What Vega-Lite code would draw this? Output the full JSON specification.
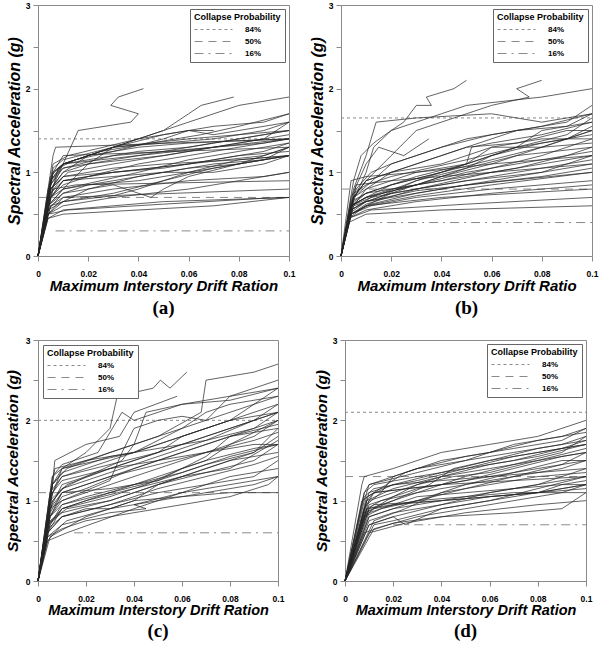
{
  "$schema": "https://vega.github.io/schema/vega-lite/v6.json",
  "description": "Incremental dynamic analysis curves with collapse probability levels, four panels",
  "padding": {"left": 4, "top": 0, "right": 0, "bottom": 2},
  "spacing": 17,
  "resolve": {"scale": {"strokeDash": "independent"}, "legend": {"strokeDash": "independent"}},
  "datasets": {
    "ka": [
      {"p": "84%", "x": 0, "y": 1.4}, {"p": "84%", "x": 0.1, "y": 1.4},
      {"p": "50%", "x": 0, "y": 0.7}, {"p": "50%", "x": 0.1, "y": 0.7},
      {"p": "16%", "x": 0.007, "y": 0.3}, {"p": "16%", "x": 0.1, "y": 0.3}
    ],
    "kb": [
      {"p": "84%", "x": 0, "y": 1.65}, {"p": "84%", "x": 0.1, "y": 1.65},
      {"p": "50%", "x": 0, "y": 0.8}, {"p": "50%", "x": 0.1, "y": 0.8},
      {"p": "16%", "x": 0.01, "y": 0.4}, {"p": "16%", "x": 0.1, "y": 0.4}
    ],
    "kc": [
      {"p": "84%", "x": 0, "y": 2.0}, {"p": "84%", "x": 0.1, "y": 2.0},
      {"p": "50%", "x": 0, "y": 1.1}, {"p": "50%", "x": 0.1, "y": 1.1},
      {"p": "16%", "x": 0.015, "y": 0.6}, {"p": "16%", "x": 0.1, "y": 0.6}
    ],
    "kd": [
      {"p": "84%", "x": 0, "y": 2.1}, {"p": "84%", "x": 0.1, "y": 2.1},
      {"p": "50%", "x": 0, "y": 1.3}, {"p": "50%", "x": 0.1, "y": 1.3},
      {"p": "16%", "x": 0.02, "y": 0.7}, {"p": "16%", "x": 0.1, "y": 0.7}
    ],
    "a": [
      {"c":1,"x":0,"y":0},{"c":1,"x":0.006,"y":1.2},{"c":1,"x":0.007,"y":1.3},{"c":1,"x":0.1,"y":1.4},
      {"c":2,"x":0,"y":0},{"c":2,"x":0.004,"y":0.8},{"c":2,"x":0.01,"y":1.1},{"c":2,"x":0.03,"y":1.3},{"c":2,"x":0.06,"y":1.4},{"c":2,"x":0.1,"y":1.5},
      {"c":3,"x":0,"y":0},{"c":3,"x":0.005,"y":0.9},{"c":3,"x":0.01,"y":1.1},{"c":3,"x":0.04,"y":1.2},{"c":3,"x":0.07,"y":1.3},{"c":3,"x":0.1,"y":1.4},
      {"c":4,"x":0,"y":0},{"c":4,"x":0.005,"y":0.7},{"c":4,"x":0.01,"y":0.9},{"c":4,"x":0.03,"y":1.0},{"c":4,"x":0.06,"y":1.1},{"c":4,"x":0.09,"y":1.2},{"c":4,"x":0.1,"y":1.3},
      {"c":5,"x":0,"y":0},{"c":5,"x":0.004,"y":0.5},{"c":5,"x":0.01,"y":0.6},{"c":5,"x":0.03,"y":0.7},{"c":5,"x":0.06,"y":0.8},{"c":5,"x":0.08,"y":0.9},{"c":5,"x":0.1,"y":1.0},
      {"c":6,"x":0,"y":0},{"c":6,"x":0.004,"y":0.45},{"c":6,"x":0.01,"y":0.5},{"c":6,"x":0.04,"y":0.55},{"c":6,"x":0.07,"y":0.6},{"c":6,"x":0.1,"y":0.7},
      {"c":7,"x":0,"y":0},{"c":7,"x":0.005,"y":0.6},{"c":7,"x":0.01,"y":0.7},{"c":7,"x":0.1,"y":0.8},
      {"c":8,"x":0,"y":0},{"c":8,"x":0.006,"y":0.8},{"c":8,"x":0.015,"y":0.85},{"c":8,"x":0.1,"y":0.9},
      {"c":9,"x":0,"y":0},{"c":9,"x":0.005,"y":0.75},{"c":9,"x":0.01,"y":0.95},{"c":9,"x":0.03,"y":1.05},{"c":9,"x":0.05,"y":1.1},{"c":9,"x":0.08,"y":1.15},{"c":9,"x":0.1,"y":1.2},
      {"c":10,"x":0,"y":0},{"c":10,"x":0.004,"y":0.6},{"c":10,"x":0.01,"y":0.8},{"c":10,"x":0.03,"y":0.9},{"c":10,"x":0.05,"y":1.0},{"c":10,"x":0.07,"y":1.1},{"c":10,"x":0.09,"y":1.15},{"c":10,"x":0.1,"y":1.3},
      {"c":11,"x":0,"y":0},{"c":11,"x":0.006,"y":1.0},{"c":11,"x":0.01,"y":1.1},{"c":11,"x":0.02,"y":1.2},{"c":11,"x":0.04,"y":1.3},{"c":11,"x":0.06,"y":1.35},{"c":11,"x":0.1,"y":1.4},
      {"c":12,"x":0,"y":0},{"c":12,"x":0.004,"y":0.7},{"c":12,"x":0.01,"y":1.1},{"c":12,"x":0.016,"y":1.5},{"c":12,"x":0.037,"y":1.6},{"c":12,"x":0.04,"y":1.7},{"c":12,"x":0.029,"y":1.8},{"c":12,"x":0.032,"y":1.9},{"c":12,"x":0.042,"y":2.0},
      {"c":13,"x":0,"y":0},{"c":13,"x":0.005,"y":0.8},{"c":13,"x":0.01,"y":1.0},{"c":13,"x":0.02,"y":1.2},{"c":13,"x":0.03,"y":1.3},{"c":13,"x":0.05,"y":1.5},{"c":13,"x":0.06,"y":1.7},{"c":13,"x":0.065,"y":1.8},{"c":13,"x":0.078,"y":1.9},
      {"c":14,"x":0,"y":0},{"c":14,"x":0.006,"y":1.1},{"c":14,"x":0.012,"y":1.2},{"c":14,"x":0.04,"y":1.4},{"c":14,"x":0.05,"y":1.5},{"c":14,"x":0.06,"y":1.6},{"c":14,"x":0.08,"y":1.8},{"c":14,"x":0.1,"y":1.9},
      {"c":15,"x":0,"y":0},{"c":15,"x":0.005,"y":0.9},{"c":15,"x":0.01,"y":1.1},{"c":15,"x":0.03,"y":1.3},{"c":15,"x":0.05,"y":1.45},{"c":15,"x":0.07,"y":1.55},{"c":15,"x":0.09,"y":1.6},{"c":15,"x":0.1,"y":1.7},
      {"c":16,"x":0,"y":0},{"c":16,"x":0.004,"y":0.6},{"c":16,"x":0.01,"y":0.75},{"c":16,"x":0.03,"y":0.85},{"c":16,"x":0.045,"y":0.7},{"c":16,"x":0.05,"y":0.8},{"c":16,"x":0.06,"y":0.95},{"c":16,"x":0.08,"y":1.1},{"c":16,"x":0.1,"y":1.2},
      {"c":17,"x":0,"y":0},{"c":17,"x":0.004,"y":0.55},{"c":17,"x":0.01,"y":0.65},{"c":17,"x":0.03,"y":0.75},{"c":17,"x":0.05,"y":0.9},{"c":17,"x":0.07,"y":1.05},{"c":17,"x":0.09,"y":1.15},{"c":17,"x":0.1,"y":1.2},
      {"c":18,"x":0,"y":0},{"c":18,"x":0.005,"y":0.7},{"c":18,"x":0.01,"y":0.8},{"c":18,"x":0.04,"y":1.0},{"c":18,"x":0.06,"y":1.15},{"c":18,"x":0.08,"y":1.25},{"c":18,"x":0.1,"y":1.35},
      {"c":19,"x":0,"y":0},{"c":19,"x":0.006,"y":1.0},{"c":19,"x":0.01,"y":1.1},{"c":19,"x":0.02,"y":1.15},{"c":19,"x":0.04,"y":1.25},{"c":19,"x":0.06,"y":1.3},{"c":19,"x":0.08,"y":1.4},{"c":19,"x":0.1,"y":1.5},
      {"c":20,"x":0,"y":0},{"c":20,"x":0.004,"y":0.5},{"c":20,"x":0.012,"y":0.55},{"c":20,"x":0.05,"y":0.62},{"c":20,"x":0.09,"y":0.69},{"c":20,"x":0.1,"y":0.7},
      {"c":21,"x":0,"y":0},{"c":21,"x":0.005,"y":0.8},{"c":21,"x":0.01,"y":1.0},{"c":21,"x":0.02,"y":1.1},{"c":21,"x":0.035,"y":1.15},{"c":21,"x":0.05,"y":1.2},{"c":21,"x":0.07,"y":1.3},{"c":21,"x":0.09,"y":1.4},{"c":21,"x":0.1,"y":1.6},
      {"c":22,"x":0,"y":0},{"c":22,"x":0.005,"y":0.7},{"c":22,"x":0.008,"y":1.05},{"c":22,"x":0.015,"y":1.15},{"c":22,"x":0.03,"y":1.25},{"c":22,"x":0.05,"y":1.4},{"c":22,"x":0.06,"y":1.5},{"c":22,"x":0.07,"y":1.45},{"c":22,"x":0.08,"y":1.5},{"c":22,"x":0.1,"y":1.6},
      {"c":23,"x":0,"y":0},{"c":23,"x":0.004,"y":0.5},{"c":23,"x":0.01,"y":0.65},{"c":23,"x":0.02,"y":0.8},{"c":23,"x":0.04,"y":0.95},{"c":23,"x":0.06,"y":1.05},{"c":23,"x":0.08,"y":1.1},{"c":23,"x":0.1,"y":1.3},
      {"c":24,"x":0,"y":0},{"c":24,"x":0.005,"y":0.75},{"c":24,"x":0.01,"y":0.9},{"c":24,"x":0.03,"y":0.95},{"c":24,"x":0.05,"y":1.0},{"c":24,"x":0.07,"y":1.0},{"c":24,"x":0.09,"y":1.1},{"c":24,"x":0.1,"y":1.2},
      {"c":25,"x":0,"y":0},{"c":25,"x":0.005,"y":0.9},{"c":25,"x":0.01,"y":1.05},{"c":25,"x":0.03,"y":1.2},{"c":25,"x":0.05,"y":1.25},{"c":25,"x":0.07,"y":1.35},{"c":25,"x":0.09,"y":1.45},{"c":25,"x":0.1,"y":1.5},
      {"c":26,"x":0,"y":0},{"c":26,"x":0.004,"y":0.6},{"c":26,"x":0.01,"y":0.8},{"c":26,"x":0.02,"y":1.1},{"c":26,"x":0.03,"y":1.3},{"c":26,"x":0.04,"y":1.4},{"c":26,"x":0.05,"y":1.45},{"c":26,"x":0.06,"y":1.5},{"c":26,"x":0.07,"y":1.5},
      {"c":27,"x":0,"y":0},{"c":27,"x":0.005,"y":0.6},{"c":27,"x":0.01,"y":0.65},{"c":27,"x":0.03,"y":0.72},{"c":27,"x":0.04,"y":0.8},{"c":27,"x":0.05,"y":0.9},{"c":27,"x":0.06,"y":1.0},{"c":27,"x":0.08,"y":1.15},{"c":27,"x":0.1,"y":1.2},
      {"c":28,"x":0,"y":0},{"c":28,"x":0.006,"y":1.0},{"c":28,"x":0.01,"y":1.2},{"c":28,"x":0.1,"y":1.3},
      {"c":29,"x":0,"y":0},{"c":29,"x":0.005,"y":0.8},{"c":29,"x":0.012,"y":1.0},{"c":29,"x":0.03,"y":1.1},{"c":29,"x":0.05,"y":1.2},{"c":29,"x":0.07,"y":1.3},{"c":29,"x":0.09,"y":1.35},{"c":29,"x":0.1,"y":1.4},
      {"c":30,"x":0,"y":0},{"c":30,"x":0.004,"y":0.5},{"c":30,"x":0.01,"y":0.7},{"c":30,"x":0.03,"y":0.8},{"c":30,"x":0.06,"y":0.9},{"c":30,"x":0.09,"y":0.95},{"c":30,"x":0.1,"y":1.0},
      {"c":31,"x":0,"y":0},{"c":31,"x":0.005,"y":0.85},{"c":31,"x":0.01,"y":1.05},{"c":31,"x":0.03,"y":1.15},{"c":31,"x":0.05,"y":1.25},{"c":31,"x":0.07,"y":1.3},{"c":31,"x":0.1,"y":1.45},
      {"c":32,"x":0,"y":0},{"c":32,"x":0.004,"y":0.65},{"c":32,"x":0.01,"y":0.9},{"c":32,"x":0.03,"y":1.0},{"c":32,"x":0.05,"y":1.05},{"c":32,"x":0.07,"y":1.15},{"c":32,"x":0.09,"y":1.25},{"c":32,"x":0.1,"y":1.35},
      {"c":33,"x":0,"y":0},{"c":33,"x":0.006,"y":1.05},{"c":33,"x":0.01,"y":1.15},{"c":33,"x":0.03,"y":1.3},{"c":33,"x":0.05,"y":1.35},{"c":33,"x":0.07,"y":1.4},{"c":33,"x":0.09,"y":1.5},{"c":33,"x":0.1,"y":1.6},
      {"c":34,"x":0,"y":0},{"c":34,"x":0.004,"y":0.55},{"c":34,"x":0.01,"y":0.75},{"c":34,"x":0.02,"y":0.85},{"c":34,"x":0.04,"y":0.9},{"c":34,"x":0.06,"y":1.0},{"c":34,"x":0.08,"y":1.1},{"c":34,"x":0.1,"y":1.2},
      {"c":35,"x":0,"y":0},{"c":35,"x":0.005,"y":0.95},{"c":35,"x":0.01,"y":1.1},{"c":35,"x":0.025,"y":1.25},{"c":35,"x":0.045,"y":1.35},{"c":35,"x":0.065,"y":1.45},{"c":35,"x":0.08,"y":1.55},{"c":35,"x":0.1,"y":1.7},
      {"c":36,"x":0,"y":0},{"c":36,"x":0.005,"y":0.7},{"c":36,"x":0.01,"y":0.85},{"c":36,"x":0.02,"y":0.95},{"c":36,"x":0.04,"y":1.1},{"c":36,"x":0.06,"y":1.2},{"c":36,"x":0.08,"y":1.3},{"c":36,"x":0.1,"y":1.4},
      {"c":37,"x":0,"y":0},{"c":37,"x":0.004,"y":0.45},{"c":37,"x":0.01,"y":0.55},{"c":37,"x":0.03,"y":0.6},{"c":37,"x":0.05,"y":0.65},{"c":37,"x":0.1,"y":0.7},
      {"c":38,"x":0,"y":0},{"c":38,"x":0.005,"y":0.8},{"c":38,"x":0.01,"y":0.95},{"c":38,"x":0.03,"y":1.0},{"c":38,"x":0.06,"y":1.1},{"c":38,"x":0.08,"y":1.2},{"c":38,"x":0.1,"y":1.25}
    ],
    "b": [
      {"c":1,"x":0,"y":0},{"c":1,"x":0.003,"y":0.4},{"c":1,"x":0.01,"y":0.5},{"c":1,"x":0.04,"y":0.55},{"c":1,"x":0.1,"y":0.6},
      {"c":2,"x":0,"y":0},{"c":2,"x":0.003,"y":0.45},{"c":2,"x":0.012,"y":0.55},{"c":2,"x":0.05,"y":0.62},{"c":2,"x":0.1,"y":0.7},
      {"c":3,"x":0,"y":0},{"c":3,"x":0.004,"y":0.5},{"c":3,"x":0.01,"y":0.6},{"c":3,"x":0.04,"y":0.7},{"c":3,"x":0.1,"y":0.8},
      {"c":4,"x":0,"y":0},{"c":4,"x":0.004,"y":0.5},{"c":4,"x":0.012,"y":0.6},{"c":4,"x":0.03,"y":0.7},{"c":4,"x":0.06,"y":0.8},{"c":4,"x":0.1,"y":0.9},
      {"c":5,"x":0,"y":0},{"c":5,"x":0.003,"y":0.45},{"c":5,"x":0.01,"y":0.6},{"c":5,"x":0.03,"y":0.72},{"c":5,"x":0.06,"y":0.85},{"c":5,"x":0.1,"y":1.0},
      {"c":6,"x":0,"y":0},{"c":6,"x":0.004,"y":0.55},{"c":6,"x":0.01,"y":0.65},{"c":6,"x":0.03,"y":0.75},{"c":6,"x":0.06,"y":0.9},{"c":6,"x":0.1,"y":1.1},
      {"c":7,"x":0,"y":0},{"c":7,"x":0.004,"y":0.5},{"c":7,"x":0.01,"y":0.62},{"c":7,"x":0.03,"y":0.8},{"c":7,"x":0.06,"y":1.0},{"c":7,"x":0.1,"y":1.2},
      {"c":8,"x":0,"y":0},{"c":8,"x":0.004,"y":0.6},{"c":8,"x":0.01,"y":0.7},{"c":8,"x":0.03,"y":0.85},{"c":8,"x":0.05,"y":1.0},{"c":8,"x":0.07,"y":1.1},{"c":8,"x":0.1,"y":1.25},
      {"c":9,"x":0,"y":0},{"c":9,"x":0.005,"y":0.6},{"c":9,"x":0.015,"y":0.7},{"c":9,"x":0.03,"y":0.9},{"c":9,"x":0.05,"y":1.05},{"c":9,"x":0.07,"y":1.2},{"c":9,"x":0.1,"y":1.3},
      {"c":10,"x":0,"y":0},{"c":10,"x":0.004,"y":0.5},{"c":10,"x":0.01,"y":0.6},{"c":10,"x":0.02,"y":0.75},{"c":10,"x":0.04,"y":0.95},{"c":10,"x":0.06,"y":1.1},{"c":10,"x":0.08,"y":1.3},{"c":10,"x":0.1,"y":1.5},
      {"c":11,"x":0,"y":0},{"c":11,"x":0.004,"y":0.9},{"c":11,"x":0.01,"y":0.95},{"c":11,"x":0.03,"y":1.0},{"c":11,"x":0.06,"y":1.1},{"c":11,"x":0.1,"y":1.2},
      {"c":12,"x":0,"y":0},{"c":12,"x":0.005,"y":0.6},{"c":12,"x":0.01,"y":0.8},{"c":12,"x":0.02,"y":1.0},{"c":12,"x":0.04,"y":1.1},{"c":12,"x":0.06,"y":1.3},{"c":12,"x":0.08,"y":1.4},{"c":12,"x":0.1,"y":1.4},
      {"c":13,"x":0,"y":0},{"c":13,"x":0.004,"y":0.55},{"c":13,"x":0.012,"y":0.7},{"c":13,"x":0.03,"y":0.9},{"c":13,"x":0.05,"y":1.1},{"c":13,"x":0.052,"y":1.3},{"c":13,"x":0.06,"y":1.35},{"c":13,"x":0.08,"y":1.45},{"c":13,"x":0.1,"y":1.6},
      {"c":14,"x":0,"y":0},{"c":14,"x":0.005,"y":0.7},{"c":14,"x":0.01,"y":0.9},{"c":14,"x":0.03,"y":1.1},{"c":14,"x":0.05,"y":1.3},{"c":14,"x":0.07,"y":1.5},{"c":14,"x":0.09,"y":1.55},{"c":14,"x":0.1,"y":1.7},
      {"c":15,"x":0,"y":0},{"c":15,"x":0.004,"y":0.6},{"c":15,"x":0.01,"y":1.0},{"c":15,"x":0.013,"y":1.3},{"c":15,"x":0.02,"y":1.5},{"c":15,"x":0.03,"y":1.6},{"c":15,"x":0.04,"y":1.7},{"c":15,"x":0.05,"y":1.8},{"c":15,"x":0.08,"y":1.9},{"c":15,"x":0.1,"y":2.0},
      {"c":16,"x":0,"y":0},{"c":16,"x":0.005,"y":0.9},{"c":16,"x":0.008,"y":1.2},{"c":16,"x":0.013,"y":1.35},{"c":16,"x":0.02,"y":1.5},{"c":16,"x":0.025,"y":1.6},{"c":16,"x":0.03,"y":1.8},{"c":16,"x":0.036,"y":1.8},{"c":16,"x":0.034,"y":1.9},{"c":16,"x":0.045,"y":2.0},{"c":16,"x":0.05,"y":2.1},
      {"c":17,"x":0,"y":0},{"c":17,"x":0.004,"y":0.7},{"c":17,"x":0.01,"y":1.1},{"c":17,"x":0.015,"y":1.3},{"c":17,"x":0.025,"y":1.2},{"c":17,"x":0.035,"y":1.4},
      {"c":18,"x":0,"y":0},{"c":18,"x":0.005,"y":0.8},{"c":18,"x":0.01,"y":1.2},{"c":18,"x":0.014,"y":1.6},{"c":18,"x":0.03,"y":1.65},{"c":18,"x":0.06,"y":1.7},{"c":18,"x":0.08,"y":1.6},{"c":18,"x":0.1,"y":1.7},
      {"c":19,"x":0,"y":0},{"c":19,"x":0.005,"y":0.7},{"c":19,"x":0.01,"y":0.8},{"c":19,"x":0.03,"y":1.0},{"c":19,"x":0.05,"y":1.1},{"c":19,"x":0.07,"y":1.3},{"c":19,"x":0.08,"y":1.5},{"c":19,"x":0.1,"y":1.6},
      {"c":20,"x":0,"y":0},{"c":20,"x":0.004,"y":0.6},{"c":20,"x":0.01,"y":0.7},{"c":20,"x":0.02,"y":0.8},{"c":20,"x":0.04,"y":0.9},{"c":20,"x":0.06,"y":1.05},{"c":20,"x":0.08,"y":1.2},{"c":20,"x":0.1,"y":1.4},
      {"c":21,"x":0,"y":0},{"c":21,"x":0.004,"y":0.6},{"c":21,"x":0.01,"y":0.75},{"c":21,"x":0.03,"y":0.95},{"c":21,"x":0.05,"y":1.1},{"c":21,"x":0.06,"y":1.3},{"c":21,"x":0.08,"y":1.3},{"c":21,"x":0.1,"y":1.5},
      {"c":22,"x":0,"y":0},{"c":22,"x":0.006,"y":0.85},{"c":22,"x":0.02,"y":0.9},{"c":22,"x":0.04,"y":0.95},{"c":22,"x":0.1,"y":1.1},
      {"c":23,"x":0,"y":0},{"c":23,"x":0.005,"y":0.7},{"c":23,"x":0.01,"y":0.9},{"c":23,"x":0.02,"y":1.2},{"c":23,"x":0.03,"y":1.5},{"c":23,"x":0.05,"y":1.7},{"c":23,"x":0.06,"y":1.8},{"c":23,"x":0.075,"y":1.9},{"c":23,"x":0.07,"y":2.0},{"c":23,"x":0.08,"y":2.1},
      {"c":24,"x":0,"y":0},{"c":24,"x":0.004,"y":0.6},{"c":24,"x":0.012,"y":0.7},{"c":24,"x":0.03,"y":0.8},{"c":24,"x":0.05,"y":0.9},{"c":24,"x":0.08,"y":1.0},{"c":24,"x":0.1,"y":1.2},
      {"c":25,"x":0,"y":0},{"c":25,"x":0.003,"y":0.5},{"c":25,"x":0.01,"y":0.65},{"c":25,"x":0.03,"y":0.78},{"c":25,"x":0.06,"y":0.88},{"c":25,"x":0.1,"y":1.0},
      {"c":26,"x":0,"y":0},{"c":26,"x":0.004,"y":0.65},{"c":26,"x":0.01,"y":0.75},{"c":26,"x":0.03,"y":0.85},{"c":26,"x":0.05,"y":0.95},{"c":26,"x":0.07,"y":1.05},{"c":26,"x":0.09,"y":1.2},{"c":26,"x":0.1,"y":1.3},
      {"c":27,"x":0,"y":0},{"c":27,"x":0.005,"y":0.7},{"c":27,"x":0.02,"y":1.1},{"c":27,"x":0.03,"y":1.2},{"c":27,"x":0.05,"y":1.4},{"c":27,"x":0.07,"y":1.5},{"c":27,"x":0.09,"y":1.6},{"c":27,"x":0.1,"y":1.8},
      {"c":28,"x":0,"y":0},{"c":28,"x":0.004,"y":0.6},{"c":28,"x":0.01,"y":0.7},{"c":28,"x":0.02,"y":0.85},{"c":28,"x":0.04,"y":1.0},{"c":28,"x":0.06,"y":1.15},{"c":28,"x":0.08,"y":1.3},{"c":28,"x":0.1,"y":1.35},
      {"c":29,"x":0,"y":0},{"c":29,"x":0.003,"y":0.45},{"c":29,"x":0.01,"y":0.55},{"c":29,"x":0.03,"y":0.65},{"c":29,"x":0.06,"y":0.75},{"c":29,"x":0.1,"y":0.85},
      {"c":30,"x":0,"y":0},{"c":30,"x":0.004,"y":0.55},{"c":30,"x":0.01,"y":0.65},{"c":30,"x":0.02,"y":0.75},{"c":30,"x":0.04,"y":0.85},{"c":30,"x":0.07,"y":1.0},{"c":30,"x":0.1,"y":1.15},
      {"c":31,"x":0,"y":0},{"c":31,"x":0.005,"y":0.65},{"c":31,"x":0.01,"y":0.75},{"c":31,"x":0.02,"y":0.85},{"c":31,"x":0.04,"y":1.0},{"c":31,"x":0.06,"y":1.2},{"c":31,"x":0.08,"y":1.35},{"c":31,"x":0.1,"y":1.45},
      {"c":32,"x":0,"y":0},{"c":32,"x":0.004,"y":0.6},{"c":32,"x":0.01,"y":0.7},{"c":32,"x":0.03,"y":0.85},{"c":32,"x":0.05,"y":1.05},{"c":32,"x":0.06,"y":1.2},{"c":32,"x":0.07,"y":1.3},{"c":32,"x":0.09,"y":1.4},{"c":32,"x":0.1,"y":1.55},
      {"c":33,"x":0,"y":0},{"c":33,"x":0.005,"y":0.7},{"c":33,"x":0.01,"y":0.9},{"c":33,"x":0.02,"y":1.0},{"c":33,"x":0.04,"y":1.2},{"c":33,"x":0.05,"y":1.3},{"c":33,"x":0.07,"y":1.35},{"c":33,"x":0.09,"y":1.5},{"c":33,"x":0.1,"y":1.5},
      {"c":34,"x":0,"y":0},{"c":34,"x":0.004,"y":0.5},{"c":34,"x":0.012,"y":0.62},{"c":34,"x":0.03,"y":0.75},{"c":34,"x":0.05,"y":0.85},{"c":34,"x":0.08,"y":0.95},{"c":34,"x":0.1,"y":1.05},
      {"c":35,"x":0,"y":0},{"c":35,"x":0.005,"y":0.75},{"c":35,"x":0.01,"y":0.85},{"c":35,"x":0.02,"y":0.95},{"c":35,"x":0.035,"y":1.05},{"c":35,"x":0.05,"y":1.15},{"c":35,"x":0.07,"y":1.3},{"c":35,"x":0.09,"y":1.45},{"c":35,"x":0.1,"y":1.65},
      {"c":36,"x":0,"y":0},{"c":36,"x":0.006,"y":0.8},{"c":36,"x":0.012,"y":1.0},{"c":36,"x":0.02,"y":1.1},{"c":36,"x":0.04,"y":1.3},{"c":36,"x":0.06,"y":1.45},{"c":36,"x":0.08,"y":1.55},{"c":36,"x":0.1,"y":1.7}
    ],
    "c": [
      {"c":1,"x":0,"y":0},{"c":1,"x":0.006,"y":1.2},{"c":1,"x":0.007,"y":1.5},{"c":1,"x":0.02,"y":1.7},{"c":1,"x":0.034,"y":1.8},{"c":1,"x":0.04,"y":2.1},{"c":1,"x":0.058,"y":2.3},
      {"c":2,"x":0,"y":0},{"c":2,"x":0.005,"y":1.0},{"c":2,"x":0.01,"y":1.4},{"c":2,"x":0.02,"y":1.6},{"c":2,"x":0.03,"y":1.9},{"c":2,"x":0.033,"y":2.3},{"c":2,"x":0.048,"y":2.4},{"c":2,"x":0.051,"y":2.5},{"c":2,"x":0.055,"y":2.4},{"c":2,"x":0.062,"y":2.6},
      {"c":3,"x":0,"y":0},{"c":3,"x":0.006,"y":1.2},{"c":3,"x":0.012,"y":1.4},{"c":3,"x":0.03,"y":1.6},{"c":3,"x":0.05,"y":1.8},{"c":3,"x":0.068,"y":2.1},{"c":3,"x":0.07,"y":2.5},{"c":3,"x":0.09,"y":2.6},{"c":3,"x":0.1,"y":2.7},
      {"c":4,"x":0,"y":0},{"c":4,"x":0.005,"y":0.8},{"c":4,"x":0.01,"y":1.1},{"c":4,"x":0.03,"y":1.3},{"c":4,"x":0.05,"y":1.5},{"c":4,"x":0.07,"y":1.7},{"c":4,"x":0.09,"y":1.9},{"c":4,"x":0.1,"y":2.1},
      {"c":5,"x":0,"y":0},{"c":5,"x":0.004,"y":0.6},{"c":5,"x":0.01,"y":0.9},{"c":5,"x":0.03,"y":1.1},{"c":5,"x":0.05,"y":1.3},{"c":5,"x":0.07,"y":1.5},{"c":5,"x":0.09,"y":1.65},{"c":5,"x":0.1,"y":1.7},
      {"c":6,"x":0,"y":0},{"c":6,"x":0.004,"y":0.5},{"c":6,"x":0.01,"y":0.7},{"c":6,"x":0.03,"y":0.85},{"c":6,"x":0.045,"y":0.9},{"c":6,"x":0.04,"y":0.95},{"c":6,"x":0.06,"y":1.1},{"c":6,"x":0.08,"y":1.3},{"c":6,"x":0.1,"y":1.4},
      {"c":7,"x":0,"y":0},{"c":7,"x":0.004,"y":0.5},{"c":7,"x":0.012,"y":0.6},{"c":7,"x":0.04,"y":0.9},{"c":7,"x":0.06,"y":1.1},{"c":7,"x":0.08,"y":1.2},{"c":7,"x":0.1,"y":1.3},
      {"c":8,"x":0,"y":0},{"c":8,"x":0.005,"y":0.55},{"c":8,"x":0.02,"y":0.8},{"c":8,"x":0.04,"y":1.0},{"c":8,"x":0.06,"y":1.05},{"c":8,"x":0.08,"y":1.1},{"c":8,"x":0.1,"y":1.1},
      {"c":9,"x":0,"y":0},{"c":9,"x":0.006,"y":1.3},{"c":9,"x":0.01,"y":1.4},{"c":9,"x":0.04,"y":1.6},{"c":9,"x":0.06,"y":1.8},{"c":9,"x":0.08,"y":2.0},{"c":9,"x":0.1,"y":2.4},
      {"c":10,"x":0,"y":0},{"c":10,"x":0.005,"y":1.1},{"c":10,"x":0.01,"y":1.3},{"c":10,"x":0.03,"y":1.5},{"c":10,"x":0.05,"y":1.7},{"c":10,"x":0.07,"y":1.9},{"c":10,"x":0.09,"y":2.1},{"c":10,"x":0.1,"y":2.2},
      {"c":11,"x":0,"y":0},{"c":11,"x":0.005,"y":0.9},{"c":11,"x":0.01,"y":1.0},{"c":11,"x":0.03,"y":1.2},{"c":11,"x":0.05,"y":1.4},{"c":11,"x":0.07,"y":1.6},{"c":11,"x":0.09,"y":1.8},{"c":11,"x":0.1,"y":2.0},
      {"c":12,"x":0,"y":0},{"c":12,"x":0.005,"y":0.8},{"c":12,"x":0.01,"y":0.95},{"c":12,"x":0.03,"y":1.1},{"c":12,"x":0.05,"y":1.25},{"c":12,"x":0.07,"y":1.45},{"c":12,"x":0.09,"y":1.6},{"c":12,"x":0.1,"y":1.8},
      {"c":13,"x":0,"y":0},{"c":13,"x":0.004,"y":0.7},{"c":13,"x":0.01,"y":0.85},{"c":13,"x":0.03,"y":1.0},{"c":13,"x":0.04,"y":1.1},{"c":13,"x":0.06,"y":1.3},{"c":13,"x":0.08,"y":1.5},{"c":13,"x":0.1,"y":1.6},
      {"c":14,"x":0,"y":0},{"c":14,"x":0.006,"y":1.2},{"c":14,"x":0.01,"y":1.35},{"c":14,"x":0.03,"y":1.55},{"c":14,"x":0.05,"y":1.65},{"c":14,"x":0.07,"y":1.75},{"c":14,"x":0.09,"y":1.9},{"c":14,"x":0.1,"y":2.0},
      {"c":15,"x":0,"y":0},{"c":15,"x":0.007,"y":1.4},{"c":15,"x":0.02,"y":1.5},{"c":15,"x":0.04,"y":1.6},{"c":15,"x":0.06,"y":1.9},{"c":15,"x":0.07,"y":2.1},{"c":15,"x":0.08,"y":2.2},{"c":15,"x":0.1,"y":2.3},
      {"c":16,"x":0,"y":0},{"c":16,"x":0.005,"y":0.9},{"c":16,"x":0.01,"y":1.2},{"c":16,"x":0.02,"y":1.3},{"c":16,"x":0.04,"y":1.5},{"c":16,"x":0.06,"y":1.7},{"c":16,"x":0.08,"y":1.9},{"c":16,"x":0.1,"y":2.1},
      {"c":17,"x":0,"y":0},{"c":17,"x":0.005,"y":0.75},{"c":17,"x":0.012,"y":0.9},{"c":17,"x":0.03,"y":1.0},{"c":17,"x":0.05,"y":1.2},{"c":17,"x":0.07,"y":1.35},{"c":17,"x":0.09,"y":1.5},{"c":17,"x":0.1,"y":1.7},
      {"c":18,"x":0,"y":0},{"c":18,"x":0.004,"y":0.6},{"c":18,"x":0.01,"y":0.8},{"c":18,"x":0.03,"y":0.95},{"c":18,"x":0.05,"y":1.1},{"c":18,"x":0.07,"y":1.2},{"c":18,"x":0.09,"y":1.3},{"c":18,"x":0.1,"y":1.5},
      {"c":19,"x":0,"y":0},{"c":19,"x":0.006,"y":1.0},{"c":19,"x":0.012,"y":1.2},{"c":19,"x":0.03,"y":1.4},{"c":19,"x":0.05,"y":1.6},{"c":19,"x":0.06,"y":1.8},{"c":19,"x":0.08,"y":2.0},{"c":19,"x":0.1,"y":2.1},
      {"c":20,"x":0,"y":0},{"c":20,"x":0.005,"y":1.0},{"c":20,"x":0.01,"y":1.15},{"c":20,"x":0.02,"y":1.3},{"c":20,"x":0.035,"y":1.5},{"c":20,"x":0.04,"y":1.7},{"c":20,"x":0.045,"y":2.1},{"c":20,"x":0.06,"y":2.2},{"c":20,"x":0.08,"y":2.3},{"c":20,"x":0.1,"y":2.4},
      {"c":21,"x":0,"y":0},{"c":21,"x":0.004,"y":0.6},{"c":21,"x":0.01,"y":0.8},{"c":21,"x":0.02,"y":0.9},{"c":21,"x":0.03,"y":0.9},{"c":21,"x":0.04,"y":1.0},{"c":21,"x":0.05,"y":1.2},{"c":21,"x":0.07,"y":1.4},{"c":21,"x":0.09,"y":1.6},{"c":21,"x":0.1,"y":1.9},
      {"c":22,"x":0,"y":0},{"c":22,"x":0.005,"y":0.7},{"c":22,"x":0.01,"y":0.9},{"c":22,"x":0.02,"y":1.0},{"c":22,"x":0.04,"y":1.15},{"c":22,"x":0.06,"y":1.3},{"c":22,"x":0.08,"y":1.4},{"c":22,"x":0.1,"y":1.75},
      {"c":23,"x":0,"y":0},{"c":23,"x":0.006,"y":1.1},{"c":23,"x":0.01,"y":1.25},{"c":23,"x":0.03,"y":1.4},{"c":23,"x":0.05,"y":1.5},{"c":23,"x":0.07,"y":1.6},{"c":23,"x":0.09,"y":1.7},{"c":23,"x":0.1,"y":1.7},
      {"c":24,"x":0,"y":0},{"c":24,"x":0.004,"y":0.55},{"c":24,"x":0.01,"y":0.65},{"c":24,"x":0.02,"y":0.75},{"c":24,"x":0.04,"y":0.85},{"c":24,"x":0.06,"y":0.95},{"c":24,"x":0.08,"y":1.05},{"c":24,"x":0.096,"y":1.2},{"c":24,"x":0.1,"y":1.3},
      {"c":25,"x":0,"y":0},{"c":25,"x":0.005,"y":0.8},{"c":25,"x":0.01,"y":1.0},{"c":25,"x":0.03,"y":1.25},{"c":25,"x":0.035,"y":1.6},{"c":25,"x":0.04,"y":1.9},{"c":25,"x":0.05,"y":2.0},{"c":25,"x":0.06,"y":2.05},{"c":25,"x":0.07,"y":2.0},{"c":25,"x":0.08,"y":2.3},{"c":25,"x":0.1,"y":2.5},
      {"c":26,"x":0,"y":0},{"c":26,"x":0.006,"y":1.3},{"c":26,"x":0.01,"y":1.45},{"c":26,"x":0.025,"y":1.6},{"c":26,"x":0.035,"y":2.1},{"c":26,"x":0.04,"y":2.0},{"c":26,"x":0.06,"y":2.2},{"c":26,"x":0.08,"y":2.25},{"c":26,"x":0.1,"y":2.4},
      {"c":27,"x":0,"y":0},{"c":27,"x":0.005,"y":0.9},{"c":27,"x":0.01,"y":1.1},{"c":27,"x":0.03,"y":1.15},{"c":27,"x":0.05,"y":1.25},{"c":27,"x":0.07,"y":1.55},{"c":27,"x":0.08,"y":1.8},{"c":27,"x":0.1,"y":1.9},
      {"c":28,"x":0,"y":0},{"c":28,"x":0.004,"y":0.7},{"c":28,"x":0.01,"y":0.9},{"c":28,"x":0.03,"y":1.05},{"c":28,"x":0.045,"y":1.2},{"c":28,"x":0.06,"y":1.4},{"c":28,"x":0.07,"y":1.5},{"c":28,"x":0.08,"y":1.7},{"c":28,"x":0.1,"y":2.0},
      {"c":29,"x":0,"y":0},{"c":29,"x":0.005,"y":0.85},{"c":29,"x":0.01,"y":1.1},{"c":29,"x":0.03,"y":1.3},{"c":29,"x":0.05,"y":1.45},{"c":29,"x":0.07,"y":1.6},{"c":29,"x":0.09,"y":1.75},{"c":29,"x":0.1,"y":1.85},
      {"c":30,"x":0,"y":0},{"c":30,"x":0.006,"y":1.1},{"c":30,"x":0.01,"y":1.3},{"c":30,"x":0.03,"y":1.45},{"c":30,"x":0.05,"y":1.6},{"c":30,"x":0.07,"y":1.8},{"c":30,"x":0.09,"y":2.0},{"c":30,"x":0.1,"y":2.2},
      {"c":31,"x":0,"y":0},{"c":31,"x":0.004,"y":0.65},{"c":31,"x":0.01,"y":0.8},{"c":31,"x":0.03,"y":0.95},{"c":31,"x":0.05,"y":1.15},{"c":31,"x":0.07,"y":1.3},{"c":31,"x":0.09,"y":1.45},{"c":31,"x":0.1,"y":1.55},
      {"c":32,"x":0,"y":0},{"c":32,"x":0.005,"y":0.95},{"c":32,"x":0.01,"y":1.15},{"c":32,"x":0.03,"y":1.35},{"c":32,"x":0.05,"y":1.55},{"c":32,"x":0.07,"y":1.75},{"c":32,"x":0.09,"y":2.0},{"c":32,"x":0.1,"y":2.1},
      {"c":33,"x":0,"y":0},{"c":33,"x":0.004,"y":0.55},{"c":33,"x":0.012,"y":0.75},{"c":33,"x":0.03,"y":0.9},{"c":33,"x":0.05,"y":1.0},{"c":33,"x":0.07,"y":1.1},{"c":33,"x":0.09,"y":1.2},{"c":33,"x":0.1,"y":1.3},
      {"c":34,"x":0,"y":0},{"c":34,"x":0.006,"y":1.2},{"c":34,"x":0.01,"y":1.4},{"c":34,"x":0.02,"y":1.5},{"c":34,"x":0.04,"y":1.7},{"c":34,"x":0.06,"y":1.9},{"c":34,"x":0.08,"y":2.1},{"c":34,"x":0.1,"y":2.3},
      {"c":35,"x":0,"y":0},{"c":35,"x":0.005,"y":0.7},{"c":35,"x":0.01,"y":0.95},{"c":35,"x":0.02,"y":1.05},{"c":35,"x":0.04,"y":1.2},{"c":35,"x":0.06,"y":1.35},{"c":35,"x":0.08,"y":1.55},{"c":35,"x":0.1,"y":1.7},
      {"c":36,"x":0,"y":0},{"c":36,"x":0.005,"y":0.8},{"c":36,"x":0.01,"y":1.05},{"c":36,"x":0.02,"y":1.15},{"c":36,"x":0.04,"y":1.4},{"c":36,"x":0.06,"y":1.6},{"c":36,"x":0.08,"y":1.8},{"c":36,"x":0.1,"y":1.95}
    ],
    "d": [
      {"c":1,"x":0,"y":0},{"c":1,"x":0.007,"y":1.2},{"c":1,"x":0.008,"y":1.3},{"c":1,"x":0.02,"y":1.4},{"c":1,"x":0.04,"y":1.6},{"c":1,"x":0.06,"y":1.7},{"c":1,"x":0.08,"y":1.8},{"c":1,"x":0.1,"y":2.0},
      {"c":2,"x":0,"y":0},{"c":2,"x":0.008,"y":1.1},{"c":2,"x":0.01,"y":1.2},{"c":2,"x":0.03,"y":1.35},{"c":2,"x":0.05,"y":1.5},{"c":2,"x":0.07,"y":1.7},{"c":2,"x":0.09,"y":1.8},{"c":2,"x":0.1,"y":1.9},
      {"c":3,"x":0,"y":0},{"c":3,"x":0.009,"y":1.0},{"c":3,"x":0.012,"y":1.1},{"c":3,"x":0.04,"y":1.2},{"c":3,"x":0.06,"y":1.3},{"c":3,"x":0.08,"y":1.4},{"c":3,"x":0.1,"y":1.5},
      {"c":4,"x":0,"y":0},{"c":4,"x":0.01,"y":0.9},{"c":4,"x":0.012,"y":0.95},{"c":4,"x":0.04,"y":1.0},{"c":4,"x":0.06,"y":1.05},{"c":4,"x":0.08,"y":1.1},{"c":4,"x":0.1,"y":1.2},
      {"c":5,"x":0,"y":0},{"c":5,"x":0.008,"y":0.9},{"c":5,"x":0.012,"y":1.1},{"c":5,"x":0.04,"y":1.2},{"c":5,"x":0.07,"y":1.25},{"c":5,"x":0.1,"y":1.3},
      {"c":6,"x":0,"y":0},{"c":6,"x":0.008,"y":0.6},{"c":6,"x":0.02,"y":0.72},{"c":6,"x":0.04,"y":0.8},{"c":6,"x":0.07,"y":0.85},{"c":6,"x":0.09,"y":0.9},{"c":6,"x":0.095,"y":1.0},{"c":6,"x":0.1,"y":1.1},
      {"c":7,"x":0,"y":0},{"c":7,"x":0.01,"y":0.6},{"c":7,"x":0.025,"y":0.72},{"c":7,"x":0.05,"y":0.85},{"c":7,"x":0.08,"y":0.95},{"c":7,"x":0.1,"y":1.0},
      {"c":8,"x":0,"y":0},{"c":8,"x":0.01,"y":0.7},{"c":8,"x":0.02,"y":0.8},{"c":8,"x":0.04,"y":0.95},{"c":8,"x":0.06,"y":1.05},{"c":8,"x":0.08,"y":1.1},{"c":8,"x":0.1,"y":1.2},
      {"c":9,"x":0,"y":0},{"c":9,"x":0.008,"y":0.8},{"c":9,"x":0.012,"y":0.9},{"c":9,"x":0.03,"y":1.0},{"c":9,"x":0.05,"y":1.05},{"c":9,"x":0.07,"y":1.1},{"c":9,"x":0.1,"y":1.1},
      {"c":10,"x":0,"y":0},{"c":10,"x":0.009,"y":1.0},{"c":10,"x":0.02,"y":1.15},{"c":10,"x":0.04,"y":1.3},{"c":10,"x":0.06,"y":1.45},{"c":10,"x":0.08,"y":1.55},{"c":10,"x":0.1,"y":1.7},
      {"c":11,"x":0,"y":0},{"c":11,"x":0.01,"y":0.9},{"c":11,"x":0.02,"y":1.0},{"c":11,"x":0.03,"y":1.1},{"c":11,"x":0.05,"y":1.3},{"c":11,"x":0.07,"y":1.45},{"c":11,"x":0.09,"y":1.6},{"c":11,"x":0.1,"y":1.8},
      {"c":12,"x":0,"y":0},{"c":12,"x":0.008,"y":1.0},{"c":12,"x":0.01,"y":1.2},{"c":12,"x":0.03,"y":1.4},{"c":12,"x":0.05,"y":1.55},{"c":12,"x":0.07,"y":1.65},{"c":12,"x":0.09,"y":1.75},{"c":12,"x":0.1,"y":1.9},
      {"c":13,"x":0,"y":0},{"c":13,"x":0.008,"y":0.8},{"c":13,"x":0.015,"y":0.9},{"c":13,"x":0.03,"y":1.0},{"c":13,"x":0.05,"y":1.15},{"c":13,"x":0.07,"y":1.3},{"c":13,"x":0.09,"y":1.45},{"c":13,"x":0.1,"y":1.6},
      {"c":14,"x":0,"y":0},{"c":14,"x":0.01,"y":0.75},{"c":14,"x":0.02,"y":0.85},{"c":14,"x":0.04,"y":0.95},{"c":14,"x":0.06,"y":1.1},{"c":14,"x":0.08,"y":1.2},{"c":14,"x":0.1,"y":1.4},
      {"c":15,"x":0,"y":0},{"c":15,"x":0.01,"y":0.7},{"c":15,"x":0.02,"y":0.8},{"c":15,"x":0.025,"y":0.7},{"c":15,"x":0.04,"y":0.9},{"c":15,"x":0.06,"y":1.0},{"c":15,"x":0.08,"y":1.15},{"c":15,"x":0.1,"y":1.3},
      {"c":16,"x":0,"y":0},{"c":16,"x":0.009,"y":0.95},{"c":16,"x":0.015,"y":1.1},{"c":16,"x":0.02,"y":1.3},{"c":16,"x":0.03,"y":1.4},{"c":16,"x":0.05,"y":1.5},{"c":16,"x":0.07,"y":1.6},{"c":16,"x":0.09,"y":1.7},{"c":16,"x":0.1,"y":1.8},
      {"c":17,"x":0,"y":0},{"c":17,"x":0.01,"y":1.1},{"c":17,"x":0.02,"y":1.2},{"c":17,"x":0.04,"y":1.25},{"c":17,"x":0.06,"y":1.3},{"c":17,"x":0.08,"y":1.35},{"c":17,"x":0.1,"y":1.4},
      {"c":18,"x":0,"y":0},{"c":18,"x":0.012,"y":0.65},{"c":18,"x":0.03,"y":0.8},{"c":18,"x":0.05,"y":0.9},{"c":18,"x":0.07,"y":1.0},{"c":18,"x":0.09,"y":1.1},{"c":18,"x":0.1,"y":1.2},
      {"c":19,"x":0,"y":0},{"c":19,"x":0.008,"y":0.85},{"c":19,"x":0.02,"y":1.0},{"c":19,"x":0.035,"y":1.2},{"c":19,"x":0.045,"y":1.4},{"c":19,"x":0.06,"y":1.5},{"c":19,"x":0.08,"y":1.6},{"c":19,"x":0.1,"y":1.7},
      {"c":20,"x":0,"y":0},{"c":20,"x":0.01,"y":1.0},{"c":20,"x":0.02,"y":1.1},{"c":20,"x":0.04,"y":1.3},{"c":20,"x":0.06,"y":1.4},{"c":20,"x":0.08,"y":1.5},{"c":20,"x":0.1,"y":1.6},
      {"c":21,"x":0,"y":0},{"c":21,"x":0.01,"y":0.8},{"c":21,"x":0.02,"y":0.9},{"c":21,"x":0.035,"y":1.05},{"c":21,"x":0.05,"y":1.2},{"c":21,"x":0.07,"y":1.35},{"c":21,"x":0.09,"y":1.5},{"c":21,"x":0.1,"y":1.5},
      {"c":22,"x":0,"y":0},{"c":22,"x":0.009,"y":0.9},{"c":22,"x":0.02,"y":0.95},{"c":22,"x":0.04,"y":1.0},{"c":22,"x":0.06,"y":1.05},{"c":22,"x":0.08,"y":1.1},{"c":22,"x":0.09,"y":1.2},{"c":22,"x":0.1,"y":1.2},
      {"c":23,"x":0,"y":0},{"c":23,"x":0.012,"y":0.75},{"c":23,"x":0.025,"y":0.9},{"c":23,"x":0.04,"y":1.1},{"c":23,"x":0.06,"y":1.2},{"c":23,"x":0.08,"y":1.3},{"c":23,"x":0.1,"y":1.35},
      {"c":24,"x":0,"y":0},{"c":24,"x":0.007,"y":1.0},{"c":24,"x":0.012,"y":1.1},{"c":24,"x":0.025,"y":1.35},{"c":24,"x":0.04,"y":1.5},{"c":24,"x":0.06,"y":1.6},{"c":24,"x":0.08,"y":1.75},{"c":24,"x":0.1,"y":1.85},
      {"c":25,"x":0,"y":0},{"c":25,"x":0.009,"y":0.85},{"c":25,"x":0.02,"y":1.05},{"c":25,"x":0.03,"y":1.2},{"c":25,"x":0.045,"y":1.3},{"c":25,"x":0.06,"y":1.35},{"c":25,"x":0.08,"y":1.5},{"c":25,"x":0.1,"y":1.65},
      {"c":26,"x":0,"y":0},{"c":26,"x":0.008,"y":1.05},{"c":26,"x":0.012,"y":1.15},{"c":26,"x":0.03,"y":1.25},{"c":26,"x":0.05,"y":1.4},{"c":26,"x":0.07,"y":1.55},{"c":26,"x":0.09,"y":1.65},{"c":26,"x":0.1,"y":1.75},
      {"c":27,"x":0,"y":0},{"c":27,"x":0.01,"y":0.95},{"c":27,"x":0.015,"y":1.0},{"c":27,"x":0.03,"y":1.1},{"c":27,"x":0.05,"y":1.2},{"c":27,"x":0.07,"y":1.3},{"c":27,"x":0.09,"y":1.4},{"c":27,"x":0.1,"y":1.5},
      {"c":28,"x":0,"y":0},{"c":28,"x":0.009,"y":0.9},{"c":28,"x":0.015,"y":1.0},{"c":28,"x":0.03,"y":1.15},{"c":28,"x":0.05,"y":1.25},{"c":28,"x":0.07,"y":1.4},{"c":28,"x":0.09,"y":1.55},{"c":28,"x":0.1,"y":1.6},
      {"c":29,"x":0,"y":0},{"c":29,"x":0.01,"y":0.8},{"c":29,"x":0.02,"y":0.9},{"c":29,"x":0.04,"y":1.0},{"c":29,"x":0.06,"y":1.1},{"c":29,"x":0.08,"y":1.2},{"c":29,"x":0.1,"y":1.3},
      {"c":30,"x":0,"y":0},{"c":30,"x":0.008,"y":1.1},{"c":30,"x":0.012,"y":1.2},{"c":30,"x":0.03,"y":1.3},{"c":30,"x":0.05,"y":1.4},{"c":30,"x":0.07,"y":1.5},{"c":30,"x":0.09,"y":1.65},{"c":30,"x":0.1,"y":1.7},
      {"c":31,"x":0,"y":0},{"c":31,"x":0.012,"y":0.7},{"c":31,"x":0.02,"y":0.75},{"c":31,"x":0.04,"y":0.9},{"c":31,"x":0.06,"y":1.0},{"c":31,"x":0.08,"y":1.1},{"c":31,"x":0.1,"y":1.15},
      {"c":32,"x":0,"y":0},{"c":32,"x":0.009,"y":1.05},{"c":32,"x":0.02,"y":1.2},{"c":32,"x":0.04,"y":1.35},{"c":32,"x":0.06,"y":1.5},{"c":32,"x":0.08,"y":1.65},{"c":32,"x":0.1,"y":1.75},
      {"c":33,"x":0,"y":0},{"c":33,"x":0.01,"y":0.85},{"c":33,"x":0.02,"y":0.95},{"c":33,"x":0.03,"y":1.05},{"c":33,"x":0.05,"y":1.1},{"c":33,"x":0.07,"y":1.15},{"c":33,"x":0.09,"y":1.2},{"c":33,"x":0.1,"y":1.25}
    ]
  },
  "vconcat": [
    {
      "spacing": 12,
      "resolve": {"scale": {"strokeDash": "independent"}, "legend": {"strokeDash": "independent"}},
      "hconcat": [
        {
          "width": 251, "height": 251,
          "title": {"text": "(a)"},
          "encoding": {
            "x": {"field": "x", "type": "quantitative", "scale": {"domain": [0, 0.1], "nice": false},
                  "axis": {"title": "Maximum Interstory Drift Ration"}},
            "y": {"field": "y", "type": "quantitative", "scale": {"domain": [0, 3], "nice": false},
                  "axis": {"title": "Spectral Acceleration (g)"}}
          },
          "layer": [
            {
              "data": {"name": "ka"},
              "mark": {"type": "line", "color": "#8a8a8a", "strokeWidth": 1},
              "encoding": {
                "strokeDash": {"field": "p", "type": "nominal",
                  "scale": {"domain": ["84%", "50%", "16%"], "range": [[3, 3], [8, 6], [9, 5, 2, 5]]},
                  "legend": {"title": "Collapse Probability", "orient": "top-right", "offset": 4}}
              }
            },
            {
              "data": {"name": "a"},
              "mark": {"type": "line", "color": "#262626", "strokeWidth": 0.9, "opacity": 0.8},
              "encoding": {"detail": {"field": "c", "type": "nominal"}, "order": {"value": null}}
            }
          ]
        },
        {
          "width": 251, "height": 251,
          "title": {"text": "(b)"},
          "encoding": {
            "x": {"field": "x", "type": "quantitative", "scale": {"domain": [0, 0.1], "nice": false},
                  "axis": {"title": "Maximum Interstory Drift Ratio"}},
            "y": {"field": "y", "type": "quantitative", "scale": {"domain": [0, 3], "nice": false},
                  "axis": {"title": "Spectral Acceleration (g)"}}
          },
          "layer": [
            {
              "data": {"name": "kb"},
              "mark": {"type": "line", "color": "#8a8a8a", "strokeWidth": 1},
              "encoding": {
                "strokeDash": {"field": "p", "type": "nominal",
                  "scale": {"domain": ["84%", "50%", "16%"], "range": [[3, 3], [8, 6], [9, 5, 2, 5]]},
                  "legend": {"title": "Collapse Probability", "orient": "top-right", "offset": 4}}
              }
            },
            {
              "data": {"name": "b"},
              "mark": {"type": "line", "color": "#262626", "strokeWidth": 0.9, "opacity": 0.8},
              "encoding": {"detail": {"field": "c", "type": "nominal"}, "order": {"value": null}}
            }
          ]
        }
      ]
    },
    {
      "spacing": 28,
      "resolve": {"scale": {"strokeDash": "independent"}, "legend": {"strokeDash": "independent"}},
      "hconcat": [
        {
          "width": 240, "height": 241,
          "title": {"text": "(c)"},
          "encoding": {
            "x": {"field": "x", "type": "quantitative", "scale": {"domain": [0, 0.1], "nice": false},
                  "axis": {"title": "Maximum Interstory Drift Ration", "titleFontSize": 14.5}},
            "y": {"field": "y", "type": "quantitative", "scale": {"domain": [0, 3], "nice": false},
                  "axis": {"title": "Spectral Acceleration (g)", "titleFontSize": 15.5, "titlePadding": 5}}
          },
          "layer": [
            {
              "data": {"name": "kc"},
              "mark": {"type": "line", "color": "#8a8a8a", "strokeWidth": 1},
              "encoding": {
                "strokeDash": {"field": "p", "type": "nominal",
                  "scale": {"domain": ["84%", "50%", "16%"], "range": [[3, 3], [8, 6], [9, 5, 2, 5]]},
                  "legend": {"title": "Collapse Probability", "orient": "top-left", "offset": 5}}
              }
            },
            {
              "data": {"name": "c"},
              "mark": {"type": "line", "color": "#262626", "strokeWidth": 0.9, "opacity": 0.8},
              "encoding": {"detail": {"field": "c", "type": "nominal"}, "order": {"value": null}}
            }
          ]
        },
        {
          "width": 241, "height": 241,
          "title": {"text": "(d)"},
          "encoding": {
            "x": {"field": "x", "type": "quantitative", "scale": {"domain": [0, 0.1], "nice": false},
                  "axis": {"title": "Maximum Interstory Drift Ration", "titleFontSize": 14.5}},
            "y": {"field": "y", "type": "quantitative", "scale": {"domain": [0, 3], "nice": false},
                  "axis": {"title": "Spectral Acceleration (g)", "titleFontSize": 15.5}}
          },
          "layer": [
            {
              "data": {"name": "kd"},
              "mark": {"type": "line", "color": "#8a8a8a", "strokeWidth": 1},
              "encoding": {
                "strokeDash": {"field": "p", "type": "nominal",
                  "scale": {"domain": ["84%", "50%", "16%"], "range": [[3, 3], [8, 6], [9, 5, 2, 5]]},
                  "legend": {"title": "Collapse Probability", "orient": "top-right", "offset": 4}}
              }
            },
            {
              "data": {"name": "d"},
              "mark": {"type": "line", "color": "#262626", "strokeWidth": 0.9, "opacity": 0.8},
              "encoding": {"detail": {"field": "c", "type": "nominal"}, "order": {"value": null}}
            }
          ]
        }
      ]
    }
  ],
  "config": {
    "background": "white",
    "view": {"stroke": "#8a8a8a", "strokeWidth": 1},
    "title": {"orient": "bottom", "frame": "group", "anchor": "middle", "font": "Liberation Serif",
              "fontSize": 19, "fontWeight": "bold", "color": "black", "offset": 5},
    "axis": {
      "grid": false, "domainColor": "#8a8a8a", "tickColor": "#8a8a8a", "tickSize": 5,
      "labelFont": "Liberation Sans", "labelFontWeight": "bold", "labelFontSize": 8.5, "labelColor": "black",
      "titleFont": "Liberation Sans", "titleFontWeight": "bold", "titleFontStyle": "italic",
      "titleFontSize": 15, "titleColor": "black", "labelOverlap": false, "labelFlush": false
    },
    "axisX": {
      "values": [0, 0.01, 0.02, 0.03, 0.04, 0.05, 0.06, 0.07, 0.08, 0.09, 0.1],
      "format": "~g",
      "labelExpr": "round(datum.value * 100) % 2 == 0 ? datum.label : ''",
      "labelPadding": 8, "titlePadding": 1
    },
    "axisY": {
      "values": [0, 0.5, 1, 1.5, 2, 2.5, 3],
      "format": "~g",
      "labelExpr": "datum.value % 1 == 0 ? datum.label : ''",
      "labelPadding": 3, "titlePadding": 3, "titleFontSize": 16
    },
    "legend": {
      "strokeColor": "#666", "fillColor": "white", "padding": 4,
      "titleFont": "Liberation Sans", "titleFontSize": 9, "titleFontWeight": "bold", "titleColor": "black",
      "titlePadding": 3,
      "labelFont": "Liberation Sans", "labelFontSize": 8, "labelFontWeight": "bold", "labelColor": "black",
      "labelOffset": 42, "rowPadding": 3,
      "symbolType": "M-1,0H8.5", "symbolSize": 64, "symbolStrokeWidth": 1, "symbolStrokeColor": "#8a8a8a"
    }
  }
}
